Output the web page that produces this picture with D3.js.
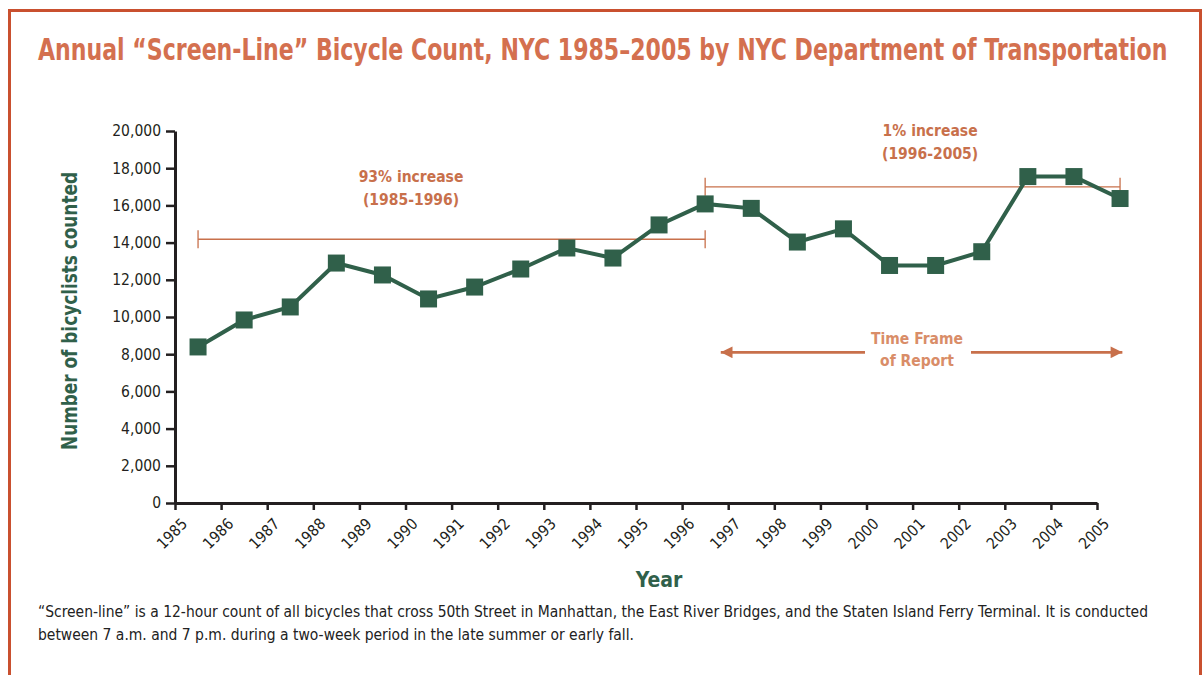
<!DOCTYPE html>
<html>
<head>
<meta charset="utf-8">
<script src="https://cdn.jsdelivr.net/npm/d3@7"></script>
<style>
  body { margin: 0; background: #fff; }
  svg text { font-family: "Liberation Sans Narrow", "DejaVu Sans Condensed", sans-serif; }
</style>
</head>
<body>
<div id="chart"></div>
<script>
var years = [1985, 1986, 1987, 1988, 1989, 1990, 1991, 1992, 1993, 1994, 1995,
             1996, 1997, 1998, 1999, 2000, 2001, 2002, 2003, 2004, 2005]
var counts = [8390, 9840, 10540, 12900, 12260, 10970, 11610, 12580, 13710, 13170, 14950,
              16080, 15840, 14030, 14740, 12770, 12770, 13510, 17550, 17550, 16370]
var yTicks = [0, 2000, 4000, 6000, 8000, 10000, 12000, 14000, 16000, 18000, 20000]

// bracket annotations: span in years, level of the bar, where the label goes
var brackets = [
    { from: 1985, to: 1996, level: 14180, label: ["93% increase", "(1985-1996)"], lx: 1990.12, ly: 17260 },
    { from: 1996, to: 2005, level: 17000, label: ["1% increase", "(1996-2005)"], lx: 2001.38, ly: 19730 }
]
var frame = { from: 1996.85, to: 2005.55, level: 8100, label: ["Time Frame", "of Report"] }

var width = 1204, height = 675
var orange = "#c8704b", green = "#30604a", dark = "#231f20"

var svg = d3.select("#chart").append("svg")
    .attr("width", width)
    .attr("height", height)

// squeeze/stretch a text horizontally so it spans w pixels, keeping its height
function fit(t, x0, y0, w) {
    var n = t.node().getComputedTextLength()
    t.attr("x", 0).attr("y", 0)
        .attr("transform", "translate(" + x0 + "," + y0 + ") scale(" + (w / n) + ",1)")
}

// frame around the figure
svg.append("rect")
    .attr("x", 9.5).attr("y", 10.5)
    .attr("width", 1191).attr("height", 700)
    .attr("fill", "none")
    .attr("stroke", "#c9502f")
    .attr("stroke-width", 3)

var title = svg.append("text")
    .style("font-size", "30px").style("font-weight", "bold")
    .attr("fill", "#d4704f")
    .text("Annual \u201cScreen-Line\u201d Bicycle Count, NYC 1985\u20132005 by NYC Department of Transportation")
fit(title, 38, 60, 1130)

var x = d3.scaleLinear().domain([1985, 2005]).range([175, 1097])
var y = d3.scaleLinear().domain([0, 20000]).range([503, 131])

var xAxis = svg.append("g")
    .attr("transform", "translate(0," + y(0) + ")")
    .call(d3.axisBottom(x).tickValues(years).tickFormat(d3.format("d")).tickSize(7).tickSizeOuter(0))
xAxis.select(".domain").attr("stroke", dark).attr("stroke-width", 3)
xAxis.selectAll(".tick line").attr("stroke", dark).attr("stroke-width", 2.5)
xAxis.selectAll(".tick text")
    .attr("fill", dark)
    .style("font-size", "15.5px")
    .attr("text-anchor", "end")
    .attr("transform", "translate(9,18) rotate(-45)")
    .attr("dy", "0.35em")
    .attr("y", 0).attr("x", 0)

var yAxis = svg.append("g")
    .attr("transform", "translate(" + x(1985) + ",0)")
    .call(d3.axisLeft(y).tickValues(yTicks).tickFormat(d3.format(",")).tickSize(9).tickSizeOuter(0).tickPadding(5))
yAxis.select(".domain").attr("stroke", dark).attr("stroke-width", 3)
yAxis.selectAll(".tick line").attr("stroke", dark).attr("stroke-width", 2.5)
yAxis.selectAll(".tick text").attr("fill", dark).style("font-size", "15.5px")

svg.append("text")
    .attr("transform", "translate(77,311) rotate(-90)")
    .attr("text-anchor", "middle")
    .attr("textLength", 278).attr("lengthAdjust", "spacingAndGlyphs")
    .style("font-size", "21px").style("font-weight", "bold")
    .attr("fill", green)
    .text("Number of bicyclists counted")

svg.append("text")
    .attr("x", 659).attr("y", 587)
    .attr("text-anchor", "middle")
    .style("font-size", "21px").style("font-weight", "bold")
    .attr("fill", green)
    .text("Year")

// brackets
brackets.forEach(function (b) {
    var g = svg.append("g").attr("stroke", orange).attr("stroke-width", 1.3)
    g.append("line")
        .attr("x1", x(b.from + 0.5)).attr("x2", x(b.to + 0.5))
        .attr("y1", y(b.level)).attr("y2", y(b.level))
    ;[b.from, b.to].forEach(function (e) {
        g.append("line")
            .attr("x1", x(e + 0.5)).attr("x2", x(e + 0.5))
            .attr("y1", y(b.level) - 9).attr("y2", y(b.level) + 9)
    })
    svg.append("text")
        .attr("x", x(b.lx)).attr("y", y(b.ly))
        .attr("text-anchor", "middle")
        .style("font-size", "15.5px").style("font-weight", "bold")
        .attr("fill", orange)
        .selectAll("tspan").data(b.label).enter().append("tspan")
        .attr("x", x(b.lx)).attr("dy", function (d, i) { return i ? 23 : 0 })
        .text(function (d) { return d })
})

// time frame arrow
svg.append("defs").append("marker")
    .attr("id", "arr")
    .attr("viewBox", "0 0 10 10")
    .attr("refX", 10).attr("refY", 5)
    .attr("markerWidth", 6).attr("markerHeight", 4.5)
    .attr("markerUnits", "strokeWidth")
    .attr("orient", "auto-start-reverse")
    .append("path").attr("d", "M0,0L10,5L0,10z").attr("fill", orange)

var fy = y(frame.level)
svg.append("line")
    .attr("x1", x(frame.from) - 0.5).attr("x2", 865)
    .attr("y1", fy).attr("y2", fy)
    .attr("stroke", orange).attr("stroke-width", 2.6)
    .attr("marker-start", "url(#arr)")
svg.append("line")
    .attr("x1", 971).attr("x2", x(frame.to))
    .attr("y1", fy).attr("y2", fy)
    .attr("stroke", orange).attr("stroke-width", 2.6)
    .attr("marker-end", "url(#arr)")
svg.append("text")
    .attr("y", fy - 8)
    .attr("text-anchor", "middle")
    .style("font-size", "15.5px").style("font-weight", "bold")
    .attr("fill", "#d98d68")
    .selectAll("tspan").data(frame.label).enter().append("tspan")
    .attr("x", 917).attr("dy", function (d, i) { return i ? 22 : 0 })
    .text(function (d) { return d })

// the series
var line = d3.line()
    .x(function (d, i) { return x(years[i] + 0.5) })
    .y(function (d) { return y(d) })

svg.append("path")
    .datum(counts)
    .attr("d", line)
    .attr("fill", "none")
    .attr("stroke", green)
    .attr("stroke-width", 4)

svg.selectAll(".pt")
    .data(counts)
    .enter().append("rect")
    .attr("class", "pt")
    .attr("x", function (d, i) { return x(years[i] + 0.5) - 8.5 })
    .attr("y", function (d) { return y(d) - 8.5 })
    .attr("width", 17).attr("height", 17)
    .attr("fill", green)

// footnote
var notes = [
    "\u201cScreen-line\u201d is a 12-hour count of all bicycles that cross 50th Street in Manhattan, the East River Bridges, and the Staten Island Ferry Terminal. It is conducted",
    "between 7 a.m. and 7 p.m. during a two-week period in the late summer or early fall."
]
var noteLen = [1110, 596]
svg.selectAll(".note")
    .data(notes)
    .enter().append("text")
    .attr("class", "note")
    .attr("x", 38)
    .attr("y", function (d, i) { return 617 + i * 23 })
    .attr("textLength", function (d, i) { return noteLen[i] })
    .attr("lengthAdjust", "spacingAndGlyphs")
    .style("font-size", "15px")
    .attr("fill", "#222")
    .text(function (d) { return d })
</script>
</body>
</html>
